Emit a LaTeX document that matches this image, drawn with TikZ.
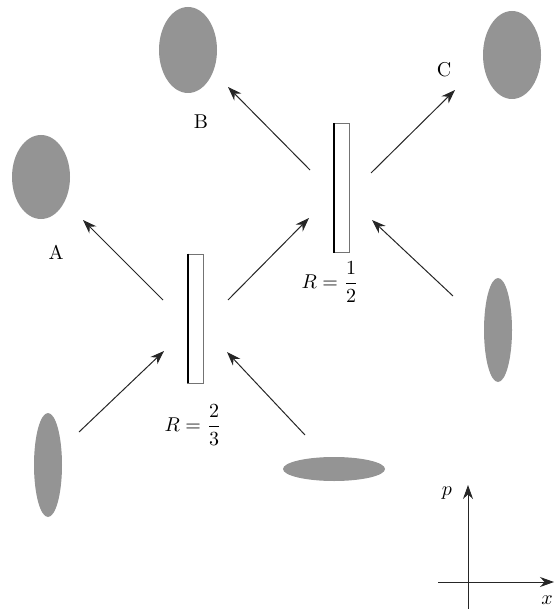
\documentclass[tikz,border=0pt]{standalone}
\usetikzlibrary{shapes.geometric,arrows.meta}
\begin{document}
\begin{tikzpicture}[x=0.5pt, y=-0.5pt, every node/.style={font=\normalsize},
    blob/.style={ellipse, fill=black!42, inner sep=0pt},
    splitter/.style={draw=black!55, line width=0.4pt, fill=white,
      minimum width=8pt, minimum height=64.5pt, inner sep=0pt},
    ray/.style={-{Stealth[length=7pt, width=5pt]}, line width=0.5pt,
      color=black!85}]
    \useasboundingbox (0,0) rectangle (559,609);
    % wave packets
    \node[blob, minimum width=29pt, minimum height=42pt] (A) at (41,177) {};
    \node[blob, minimum width=29pt, minimum height=43pt] (B) at (188,50) {};
    \node[blob, minimum width=29pt, minimum height=44pt] (C) at (512,55) {};
    \node[blob, minimum width=14pt, minimum height=52pt] (inL) at (48,465) {};
    \node[blob, minimum width=51pt, minimum height=12pt] (inB) at (334,469) {};
    \node[blob, minimum width=14pt, minimum height=52pt] (inR) at (498,330) {};
    \node (lA) at (56,252) {A};
    \node (lB) at (201,122) {B};
    \node (lC) at (444,70) {C};
    % beam splitters
    \node[splitter] (bs1) at (195,318.5) {};
    \node[splitter] (bs2) at (341,188) {};
    \draw[line width=1.4pt] ([xshift=0.7pt]bs1.north west) -- ([xshift=0.7pt]bs1.south west);
    \draw[line width=1.4pt] ([xshift=0.7pt]bs2.north west) -- ([xshift=0.7pt]bs2.south west);
    \node (r1) at (193,425) {$R=\displaystyle\frac{2}{3}$};
    \node (r2) at (330,282) {$R=\displaystyle\frac{1}{2}$};
    % rays
    \coordinate (a1) at (79,432);  \coordinate (a2) at (164,351);
    \coordinate (b1) at (305,435); \coordinate (b2) at (227,352);
    \coordinate (c1) at (163,300); \coordinate (c2) at (83,220);
    \coordinate (d1) at (228,300); \coordinate (d2) at (309,218);
    \coordinate (e1) at (453,296); \coordinate (e2) at (372,220);
    \coordinate (f1) at (310,170); \coordinate (f2) at (228,87);
    \coordinate (g1) at (371,173); \coordinate (g2) at (455,90);
    \foreach \s in {a,b,c,d,e,f,g}
      \draw[ray] (\s1) -- (\s2);
    % phase space axes
    \coordinate (pb) at (468,609); \coordinate (pt) at (468,485);
    \coordinate (xl) at (438,582); \coordinate (xr) at (554,582);
    \draw[ray] (pb) -- (pt);
    \draw[ray] (xl) -- (xr);
    \node (lp) at (447,493) {$p$};
    \node (lx) at (547,600) {$x$};
  \end{tikzpicture}
\end{document}
